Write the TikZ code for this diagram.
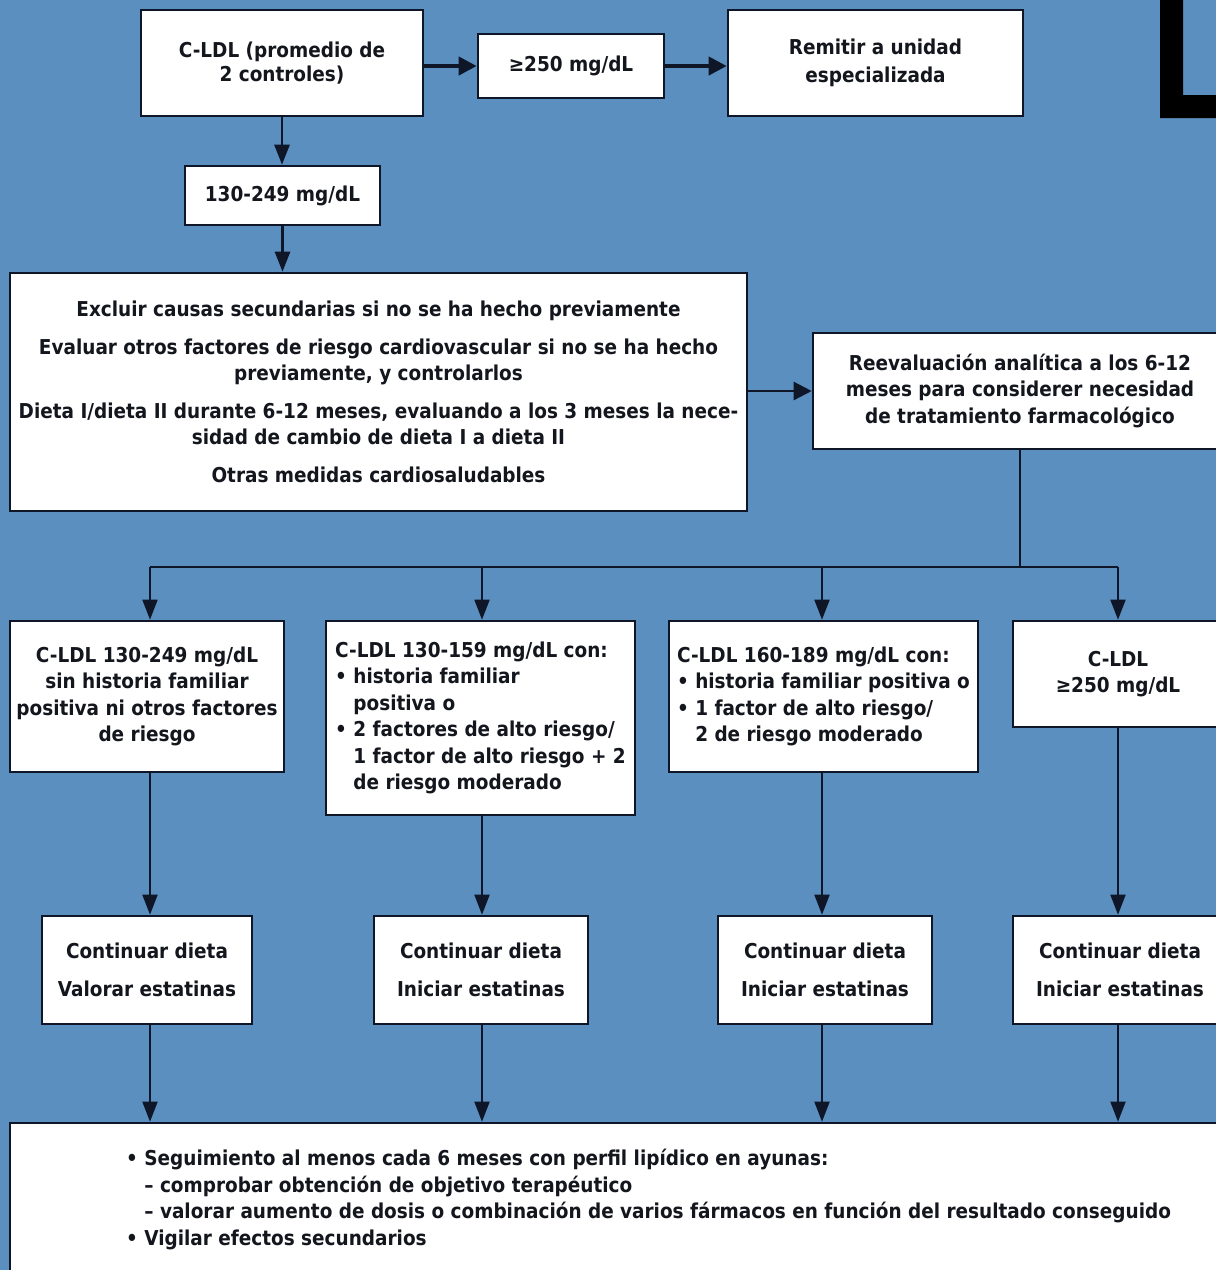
\documentclass[tikz,border=0pt]{standalone}
\usepackage{fontspec}
\setmainfont{DejaVu Sans Condensed}
\usetikzlibrary{arrows.meta}
\definecolor{bg}{RGB}{91,143,191}
\definecolor{bd}{RGB}{14,22,40}
\definecolor{tx}{RGB}{20,22,30}
\begin{document}
\begin{tikzpicture}[x=1pt,y=-1pt,
  box/.style={draw=bd,fill=white,line width=2.6pt,inner sep=0pt,align=center,text=tx,
    font=\fontsize{20.5}{26.5}\selectfont\bfseries},
  arr/.style={draw=bd,line width=1.8pt,-{Triangle[length=20pt,width=15pt]}},
  tarr/.style={draw=bd,line width=4pt,-{Triangle[length=18pt,width=18pt]}},
  ln/.style={draw=bd,line width=1.8pt}]
\fill[bg] (0,0) rectangle (1216,1270);
\useasboundingbox (0,0) rectangle (1216,1270);
\begin{scope}
\clip (0,0) rectangle (1216,1270);
% black L fragment
\fill[black] (1160,0) -- (1183,0) -- (1183,95) -- (1216,95) -- (1216,118) -- (1160,118) -- cycle;
% top row
\node[box,minimum width=282pt,minimum height=106pt] (A) at (282,63)
  {C-LDL (promedio de\\[-3pt]2 controles)};
\node[box,minimum width=186pt,minimum height=64pt] (B) at (571,66) {≥250 mg/dL};
\node[box,minimum width=295pt,minimum height=106pt] (C) at (875.5,63)
  {Remitir a unidad\\[1pt]especializada};
\node[box,minimum width=195pt,minimum height=59pt] (D) at (282.5,195.5) {130-249 mg/dL};
\node[box,minimum width=737pt,minimum height=238pt] (E) at (378.5,392)
  {Excluir causas secundarias si no se ha hecho previamente\\[11pt]
   Evaluar otros factores de riesgo cardiovascular si no se ha hecho\\
   previamente, y controlarlos\\[11pt]
   Dieta I/dieta II durante 6-12 meses, evaluando a los 3 meses la nece-\\
   sidad de cambio de dieta I a dieta II\\[11pt]
   Otras medidas cardiosaludables};
\node[box,minimum width=414pt,minimum height=116pt] (F) at (1020,391)
  {Reevaluación analítica a los 6-12\\meses para considerer necesidad\\de tratamiento farmacológico};
% second level
\node[box,minimum width=274pt,minimum height=151pt] (G1) at (147,696.5)
  {C-LDL 130-249 mg/dL\\sin historia familiar\\positiva ni otros factores\\de riesgo};
\node[box,minimum width=309pt,minimum height=194pt,align=left] (G2) at (480.5,718)
  {C-LDL 130-159 mg/dL con:\\
   • historia familiar\\
   \hphantom{• }positiva o\\
   • 2 factores de alto riesgo/\\
   \hphantom{• }1 factor de alto riesgo + 2\\
   \hphantom{• }de riesgo moderado};
\node[box,minimum width=309pt,minimum height=151pt,align=left] (G3) at (823.5,696.5)
  {C-LDL 160-189 mg/dL con:\\
   • historia familiar positiva o\\
   • 1 factor de alto riesgo/\\
   \hphantom{• }2 de riesgo moderado};
\node[box,minimum width=210pt,minimum height=106pt] (G4) at (1118,674)
  {C-LDL\\≥250 mg/dL};
% third level
\node[box,minimum width=210pt,minimum height=108pt] (H1) at (147,970)
  {Continuar dieta\\[12pt]Valorar estatinas};
\node[box,minimum width=214pt,minimum height=108pt] (H2) at (481,970)
  {Continuar dieta\\[12pt]Iniciar estatinas};
\node[box,minimum width=214pt,minimum height=108pt] (H3) at (825,970)
  {Continuar dieta\\[12pt]Iniciar estatinas};
\node[box,minimum width=214pt,minimum height=108pt] (H4) at (1120,970)
  {Continuar dieta\\[12pt]Iniciar estatinas};
% bottom box
\node[box,minimum width=1216pt,minimum height=160pt] (I) at (618,1203) {};
\node[anchor=north west,align=left,inner sep=0pt,text=tx,font=\fontsize{20.5}{26.5}\selectfont\bfseries] (Itxt) at (126,1149)
  {• Seguimiento al menos cada 6 meses con perfil lipídico en ayunas:\\
   \hphantom{• }– comprobar obtención de objetivo terapéutico\\
   \hphantom{• }– valorar aumento de dosis o combinación de varios fármacos en función del resultado conseguido\\
   • Vigilar efectos secundarios};
% connectors top
\draw[tarr] (A.east|-B) -- (B.west);
\draw[tarr] (B.east) -- (C.west|-B);
\draw[arr,line width=2.6pt] (A.south) -- (D.north-|A.south);
\draw[arr,line width=2.6pt] (D.south) -- (E.north-|D.south);
\draw[tarr,line width=2.4pt] (E.east|-F) -- (F.west);
% branching
\coordinate (j) at (1020,567);
\coordinate (b1) at (150,567);
\coordinate (b2) at (482,567);
\coordinate (b3) at (822,567);
\coordinate (b4) at (1118,567);
\draw[ln] (F.south-|j) -- (j);
\draw[ln] (b1) -- (b4);
\draw[arr] (b1) -- (b1|-G1.north);
\draw[arr] (b2) -- (b2|-G2.north);
\draw[arr] (b3) -- (b3|-G3.north);
\draw[arr] (b4) -- (b4|-G4.north);
\draw[arr] (b1|-G1.south) -- (b1|-H1.north);
\draw[arr] (b2|-G2.south) -- (b2|-H2.north);
\draw[arr] (b3|-G3.south) -- (b3|-H3.north);
\draw[arr] (b4|-G4.south) -- (b4|-H4.north);
\draw[arr] (b1|-H1.south) -- (b1|-I.north);
\draw[arr] (b2|-H2.south) -- (b2|-I.north);
\draw[arr] (b3|-H3.south) -- (b3|-I.north);
\draw[arr] (b4|-H4.south) -- (b4|-I.north);
\end{scope}
\end{tikzpicture}
\end{document}
